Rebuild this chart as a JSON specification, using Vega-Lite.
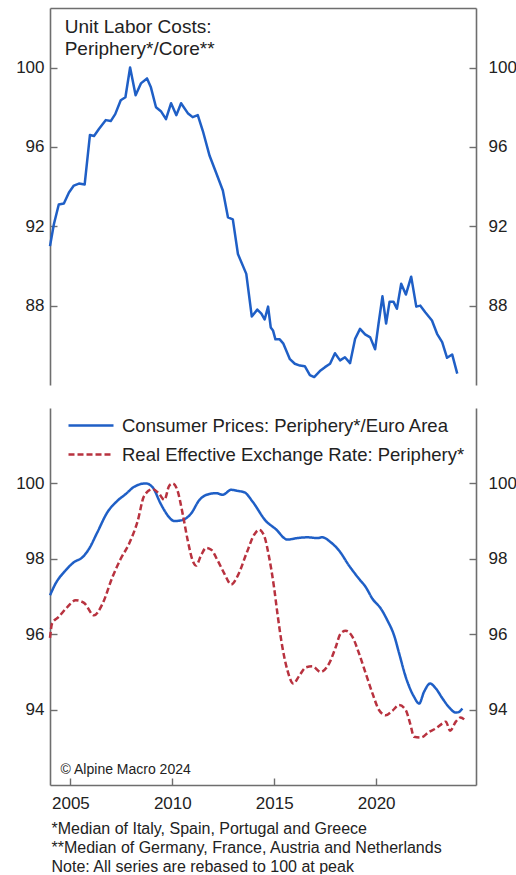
{
  "$schema": "https://vega.github.io/schema/vega-lite/v6.json",
  "padding": {"left": 15, "top": 8, "right": 0, "bottom": 0},
  "spacing": 23,
  "config": {
    "font": "Liberation Sans",
    "view": {"stroke": null},
    "axis": {
      "grid": false,
      "domainColor": "#6e6e6e",
      "domainWidth": 1.6,
      "tickColor": "#6e6e6e",
      "tickWidth": 1.4,
      "labelColor": "#222222",
      "labelFont": "Liberation Sans",
      "labelFontSize": 17
    }
  },
  "datasets": {
    "ulc": [
      {"year": 2004.0, "ulc": 91.0}, {"year": 2004.19, "ulc": 92.1}, {"year": 2004.43, "ulc": 93.1},
      {"year": 2004.68, "ulc": 93.15}, {"year": 2004.93, "ulc": 93.7}, {"year": 2005.17, "ulc": 94.05},
      {"year": 2005.42, "ulc": 94.15}, {"year": 2005.7, "ulc": 94.1}, {"year": 2005.96, "ulc": 96.6},
      {"year": 2006.16, "ulc": 96.55}, {"year": 2006.4, "ulc": 96.9}, {"year": 2006.74, "ulc": 97.35},
      {"year": 2006.98, "ulc": 97.3}, {"year": 2007.2, "ulc": 97.65}, {"year": 2007.47, "ulc": 98.35},
      {"year": 2007.7, "ulc": 98.5}, {"year": 2007.93, "ulc": 100.0}, {"year": 2008.2, "ulc": 98.6},
      {"year": 2008.46, "ulc": 99.2}, {"year": 2008.76, "ulc": 99.45}, {"year": 2008.95, "ulc": 99.0},
      {"year": 2009.2, "ulc": 98.0}, {"year": 2009.44, "ulc": 97.8}, {"year": 2009.69, "ulc": 97.4},
      {"year": 2009.94, "ulc": 98.2}, {"year": 2010.2, "ulc": 97.6}, {"year": 2010.43, "ulc": 98.2},
      {"year": 2010.76, "ulc": 97.7}, {"year": 2011.0, "ulc": 97.5}, {"year": 2011.25, "ulc": 97.6},
      {"year": 2011.5, "ulc": 96.8}, {"year": 2011.83, "ulc": 95.55}, {"year": 2012.15, "ulc": 94.7},
      {"year": 2012.48, "ulc": 93.8}, {"year": 2012.73, "ulc": 92.45}, {"year": 2012.97, "ulc": 92.35},
      {"year": 2013.22, "ulc": 90.6}, {"year": 2013.63, "ulc": 89.6}, {"year": 2013.9, "ulc": 87.45},
      {"year": 2014.17, "ulc": 87.8}, {"year": 2014.37, "ulc": 87.6}, {"year": 2014.53, "ulc": 87.3},
      {"year": 2014.7, "ulc": 87.95}, {"year": 2014.83, "ulc": 86.9}, {"year": 2014.94, "ulc": 86.75},
      {"year": 2015.06, "ulc": 86.3}, {"year": 2015.27, "ulc": 86.3}, {"year": 2015.44, "ulc": 86.1},
      {"year": 2015.77, "ulc": 85.3}, {"year": 2016.01, "ulc": 85.07}, {"year": 2016.26, "ulc": 84.98},
      {"year": 2016.5, "ulc": 84.95}, {"year": 2016.75, "ulc": 84.5}, {"year": 2016.96, "ulc": 84.4},
      {"year": 2017.24, "ulc": 84.7}, {"year": 2017.49, "ulc": 84.9}, {"year": 2017.74, "ulc": 85.07},
      {"year": 2017.98, "ulc": 85.6}, {"year": 2018.23, "ulc": 85.24}, {"year": 2018.47, "ulc": 85.4},
      {"year": 2018.72, "ulc": 85.1}, {"year": 2018.97, "ulc": 86.33}, {"year": 2019.21, "ulc": 86.83},
      {"year": 2019.46, "ulc": 86.55}, {"year": 2019.71, "ulc": 86.4}, {"year": 2019.95, "ulc": 85.8},
      {"year": 2020.12, "ulc": 87.1}, {"year": 2020.31, "ulc": 88.47}, {"year": 2020.49, "ulc": 87.1},
      {"year": 2020.66, "ulc": 88.2}, {"year": 2020.85, "ulc": 88.2}, {"year": 2021.02, "ulc": 87.84},
      {"year": 2021.23, "ulc": 89.1}, {"year": 2021.46, "ulc": 88.56}, {"year": 2021.72, "ulc": 89.46},
      {"year": 2021.97, "ulc": 87.95}, {"year": 2022.17, "ulc": 88.0}, {"year": 2022.41, "ulc": 87.67},
      {"year": 2022.74, "ulc": 87.25}, {"year": 2022.99, "ulc": 86.58}, {"year": 2023.24, "ulc": 86.16},
      {"year": 2023.48, "ulc": 85.37}, {"year": 2023.73, "ulc": 85.54}, {"year": 2023.98, "ulc": 84.57}
    ],
    "prices": [
      {"series": "cpi", "year": 2004.0, "value": 97.03}, {"series": "cpi", "year": 2004.27, "value": 97.34},
      {"series": "cpi", "year": 2004.76, "value": 97.69}, {"series": "cpi", "year": 2005.26, "value": 97.94},
      {"series": "cpi", "year": 2005.5, "value": 98.0}, {"series": "cpi", "year": 2005.91, "value": 98.26},
      {"series": "cpi", "year": 2006.32, "value": 98.7}, {"series": "cpi", "year": 2006.81, "value": 99.23},
      {"series": "cpi", "year": 2007.31, "value": 99.54}, {"series": "cpi", "year": 2007.72, "value": 99.72},
      {"series": "cpi", "year": 2008.13, "value": 99.91}, {"series": "cpi", "year": 2008.7, "value": 100.0},
      {"series": "cpi", "year": 2009.03, "value": 99.9}, {"series": "cpi", "year": 2009.44, "value": 99.45},
      {"series": "cpi", "year": 2009.85, "value": 99.1}, {"series": "cpi", "year": 2010.1, "value": 99.0},
      {"series": "cpi", "year": 2010.51, "value": 99.03}, {"series": "cpi", "year": 2010.92, "value": 99.2},
      {"series": "cpi", "year": 2011.33, "value": 99.56}, {"series": "cpi", "year": 2011.82, "value": 99.72},
      {"series": "cpi", "year": 2012.15, "value": 99.74}, {"series": "cpi", "year": 2012.48, "value": 99.7},
      {"series": "cpi", "year": 2012.89, "value": 99.83}, {"series": "cpi", "year": 2013.22, "value": 99.8},
      {"series": "cpi", "year": 2013.55, "value": 99.76}, {"series": "cpi", "year": 2013.96, "value": 99.5},
      {"series": "cpi", "year": 2014.58, "value": 99.01}, {"series": "cpi", "year": 2015.07, "value": 98.79},
      {"series": "cpi", "year": 2015.65, "value": 98.51}, {"series": "cpi", "year": 2016.14, "value": 98.55},
      {"series": "cpi", "year": 2016.63, "value": 98.57}, {"series": "cpi", "year": 2017.12, "value": 98.55},
      {"series": "cpi", "year": 2017.36, "value": 98.57}, {"series": "cpi", "year": 2017.77, "value": 98.44},
      {"series": "cpi", "year": 2018.18, "value": 98.22}, {"series": "cpi", "year": 2018.67, "value": 97.82},
      {"series": "cpi", "year": 2019.16, "value": 97.47}, {"series": "cpi", "year": 2019.49, "value": 97.25},
      {"series": "cpi", "year": 2019.82, "value": 96.94}, {"series": "cpi", "year": 2020.23, "value": 96.68},
      {"series": "cpi", "year": 2020.55, "value": 96.37}, {"series": "cpi", "year": 2020.88, "value": 95.97},
      {"series": "cpi", "year": 2021.13, "value": 95.49}, {"series": "cpi", "year": 2021.45, "value": 94.87},
      {"series": "cpi", "year": 2021.86, "value": 94.34}, {"series": "cpi", "year": 2022.11, "value": 94.16},
      {"series": "cpi", "year": 2022.35, "value": 94.47}, {"series": "cpi", "year": 2022.65, "value": 94.69},
      {"series": "cpi", "year": 2022.93, "value": 94.56}, {"series": "cpi", "year": 2023.25, "value": 94.3},
      {"series": "cpi", "year": 2023.58, "value": 94.06}, {"series": "cpi", "year": 2023.91, "value": 93.92},
      {"series": "cpi", "year": 2024.07, "value": 93.94}, {"series": "cpi", "year": 2024.23, "value": 94.03},

      {"series": "reer", "year": 2004.0, "value": 95.9}, {"series": "reer", "year": 2004.1, "value": 96.28},
      {"series": "reer", "year": 2004.43, "value": 96.46}, {"series": "reer", "year": 2004.85, "value": 96.72},
      {"series": "reer", "year": 2005.26, "value": 96.9}, {"series": "reer", "year": 2005.67, "value": 96.83},
      {"series": "reer", "year": 2006.16, "value": 96.5}, {"series": "reer", "year": 2006.57, "value": 96.8},
      {"series": "reer", "year": 2007.06, "value": 97.51}, {"series": "reer", "year": 2007.47, "value": 98.0},
      {"series": "reer", "year": 2007.88, "value": 98.4}, {"series": "reer", "year": 2008.3, "value": 99.0},
      {"series": "reer", "year": 2008.62, "value": 99.67}, {"series": "reer", "year": 2009.03, "value": 99.85},
      {"series": "reer", "year": 2009.36, "value": 99.72}, {"series": "reer", "year": 2009.61, "value": 99.56},
      {"series": "reer", "year": 2009.85, "value": 99.94}, {"series": "reer", "year": 2010.02, "value": 100.0},
      {"series": "reer", "year": 2010.26, "value": 99.8}, {"series": "reer", "year": 2010.51, "value": 99.19},
      {"series": "reer", "year": 2010.76, "value": 98.48}, {"series": "reer", "year": 2011.0, "value": 97.95},
      {"series": "reer", "year": 2011.17, "value": 97.82}, {"series": "reer", "year": 2011.41, "value": 98.09},
      {"series": "reer", "year": 2011.66, "value": 98.29}, {"series": "reer", "year": 2011.91, "value": 98.24},
      {"series": "reer", "year": 2012.23, "value": 97.95}, {"series": "reer", "year": 2012.56, "value": 97.6},
      {"series": "reer", "year": 2012.89, "value": 97.32}, {"series": "reer", "year": 2013.22, "value": 97.56},
      {"series": "reer", "year": 2013.63, "value": 98.13}, {"series": "reer", "year": 2014.04, "value": 98.66},
      {"series": "reer", "year": 2014.26, "value": 98.77}, {"series": "reer", "year": 2014.5, "value": 98.62},
      {"series": "reer", "year": 2014.75, "value": 98.04}, {"series": "reer", "year": 2014.99, "value": 97.25},
      {"series": "reer", "year": 2015.16, "value": 96.54}, {"series": "reer", "year": 2015.4, "value": 95.66},
      {"series": "reer", "year": 2015.65, "value": 95.04}, {"series": "reer", "year": 2015.94, "value": 94.69},
      {"series": "reer", "year": 2016.22, "value": 94.89}, {"series": "reer", "year": 2016.55, "value": 95.12},
      {"series": "reer", "year": 2016.87, "value": 95.15}, {"series": "reer", "year": 2017.28, "value": 95.0},
      {"series": "reer", "year": 2017.69, "value": 95.22}, {"series": "reer", "year": 2018.02, "value": 95.66},
      {"series": "reer", "year": 2018.26, "value": 96.02}, {"series": "reer", "year": 2018.51, "value": 96.09},
      {"series": "reer", "year": 2018.84, "value": 95.93}, {"series": "reer", "year": 2019.16, "value": 95.49},
      {"series": "reer", "year": 2019.49, "value": 94.96}, {"series": "reer", "year": 2019.82, "value": 94.43},
      {"series": "reer", "year": 2020.14, "value": 93.99}, {"series": "reer", "year": 2020.47, "value": 93.85},
      {"series": "reer", "year": 2020.8, "value": 93.97}, {"series": "reer", "year": 2021.13, "value": 94.12},
      {"series": "reer", "year": 2021.45, "value": 93.99}, {"series": "reer", "year": 2021.67, "value": 93.63},
      {"series": "reer", "year": 2021.86, "value": 93.28}, {"series": "reer", "year": 2022.19, "value": 93.26},
      {"series": "reer", "year": 2022.6, "value": 93.41}, {"series": "reer", "year": 2022.93, "value": 93.5},
      {"series": "reer", "year": 2023.25, "value": 93.63}, {"series": "reer", "year": 2023.42, "value": 93.68},
      {"series": "reer", "year": 2023.63, "value": 93.44}, {"series": "reer", "year": 2023.91, "value": 93.68},
      {"series": "reer", "year": 2024.15, "value": 93.79}, {"series": "reer", "year": 2024.32, "value": 93.74}
    ]
  },
  "vconcat": [
    {
      "width": 426,
      "height": 377,
      "layer": [
        {
          "data": {"name": "ulc"},
          "mark": {"type": "line", "color": "#1f5fc6", "strokeWidth": 2.5, "strokeJoin": "round"},
          "encoding": {
            "x": {
              "field": "year", "type": "quantitative",
              "scale": {"domain": [2004, 2024.9], "nice": false, "zero": false},
              "axis": {"orient": "top", "labels": false, "ticks": false, "title": null}
            },
            "y": {
              "field": "ulc", "type": "quantitative",
              "scale": {"domain": [84, 103], "nice": false, "zero": false},
              "axis": {"orient": "left", "values": [88, 92, 96, 100], "tickSize": -7, "labelPadding": 13, "title": null}
            }
          }
        },
        {
          "data": {"values": [{}]},
          "mark": {"type": "text", "align": "left", "baseline": "alphabetic", "fontSize": 19, "lineHeight": 22, "color": "#222222"},
          "encoding": {
            "x": {"datum": 2004.72, "type": "quantitative", "axis": null},
            "y": {
              "datum": 101.76, "type": "quantitative",
              "axis": {"orient": "right", "values": [88, 92, 96, 100], "tickSize": -7, "labelPadding": 19, "title": null}
            },
            "text": {"value": ["Unit Labor Costs:", "Periphery*/Core**"]}
          }
        }
      ],
      "resolve": {"axis": {"x": "independent", "y": "independent"}}
    },
    {
      "width": 426,
      "height": 377,
      "layer": [
        {
          "data": {"name": "prices"},
          "mark": {"type": "line", "strokeWidth": 2.5, "interpolate": "monotone"},
          "encoding": {
            "x": {
              "field": "year", "type": "quantitative",
              "scale": {"domain": [2004, 2024.9], "nice": false, "zero": false},
              "axis": {
                "orient": "bottom", "values": [2005, 2010, 2015, 2020], "format": "d",
                "tickSize": -7, "labelPadding": 17,
                "title": [
                  "*Median of Italy, Spain, Portugal and Greece",
                  "**Median of Germany, France, Austria and Netherlands",
                  "Note: All series are rebased to 100 at peak"
                ],
                "titleFont": "Liberation Sans", "titleFontSize": 16, "titleFontWeight": "normal",
                "titleColor": "#222222", "titleAnchor": "start", "titleAlign": "left",
                "titleBaseline": "alphabetic", "titleLineHeight": 19, "titleX": 1, "titleY": 48
              }
            },
            "y": {
              "field": "value", "type": "quantitative",
              "scale": {"domain": [92, 102], "nice": false, "zero": false},
              "axis": {"orient": "left", "values": [94, 96, 98, 100], "tickSize": -7, "labelPadding": 13, "title": null}
            },
            "color": {
              "field": "series", "type": "nominal",
              "scale": {"domain": ["cpi", "reer"], "range": ["#1f5fc6", "#b8323f"]},
              "legend": {
                "orient": "none", "legendX": 17, "legendY": 403, "title": null,
                "labelExpr": "datum.value == 'cpi' ? 'Consumer Prices: Periphery*/Euro Area' : 'Real Effective Exchange Rate: Periphery*'",
                "symbolType": "stroke", "symbolSize": 2025, "symbolStrokeWidth": 2.5,
                "labelFontSize": 18.5, "labelColor": "#222222", "labelOffset": 7, "labelLimit": 0,
                "clipHeight": 29, "rowPadding": 0
              }
            },
            "strokeDash": {
              "field": "series", "type": "nominal",
              "scale": {"domain": ["cpi", "reer"], "range": [[1, 0], [6, 3]]},
              "legend": null
            }
          }
        },
        {
          "data": {"values": [{}]},
          "mark": {"type": "text", "align": "left", "baseline": "alphabetic", "fontSize": 14, "color": "#222222"},
          "encoding": {
            "x": {"datum": 2004.52, "type": "quantitative", "axis": null},
            "y": {
              "datum": 92.3, "type": "quantitative",
              "axis": {"orient": "right", "values": [94, 96, 98, 100], "tickSize": -7, "labelPadding": 19, "title": null}
            },
            "text": {"value": "© Alpine Macro 2024"}
          }
        }
      ],
      "resolve": {"axis": {"x": "independent", "y": "independent"}}
    }
  ]
}
